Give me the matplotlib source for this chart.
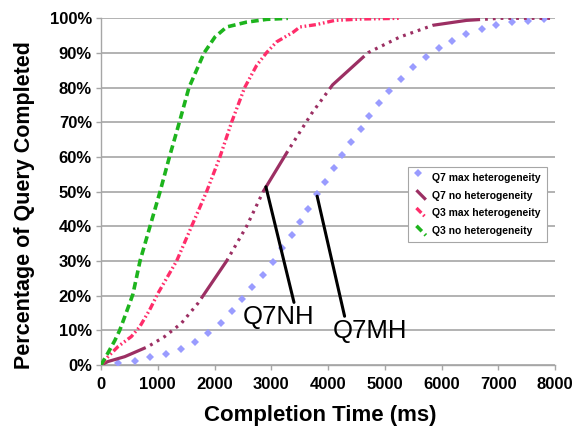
import matplotlib
matplotlib.use('Agg')
import matplotlib.pyplot as plt
from matplotlib.ticker import FuncFormatter
from matplotlib.legend_handler import HandlerLine2D

plt.rcParams['font.family'] = ['Liberation Sans', 'DejaVu Sans']
plt.rcParams['lines.scale_dashes'] = False

# completion time (ms) and % completed
q3_nh_t = [0, 123, 241, 329, 417, 505, 563, 687, 863, 1040, 1205, 1380, 1549, 1815,
           2007, 2213, 2565, 2917, 3292]
q3_nh_p = [0, 3.5, 7, 10, 13.9, 17.8, 20.5, 30, 40, 50, 60, 70, 80, 90,
           94.6, 97.5, 98.9, 99.7, 100]

q3_mh_t = [0, 123, 299, 534, 681, 857, 1004, 1332, 1596, 1860, 2095, 2300, 2530,
           2741, 2917, 3093, 3386, 3504, 3797, 4120, 4600, 5264]
q3_mh_p = [0, 2.4, 5.3, 8.2, 11, 15.9, 20.7, 30, 40, 50, 60, 70, 80,
           86.4, 90.1, 93.2, 96, 97.5, 98.2, 99.4, 99.8, 100]

q7_nh_t = [0, 123, 417, 827, 1121, 1414, 1708, 2213, 2565, 2857, 3298, 3709, 4080,
           4706, 5264, 5850, 6438, 7025, 8000]
q7_nh_p = [0, 1, 2.4, 5.3, 8.2, 12, 17.8, 30, 40, 50, 61.9, 72.5, 80.8,
           90.1, 94.6, 98, 99.4, 100, 100]

q7_mh_t = [300, 600, 863, 1139, 1408, 1655, 1890, 2113, 2300, 2488, 2664, 2846, 3022, 3192,
           3357, 3500, 3642, 3800, 3951, 4108, 4254, 4400, 4575, 4720, 4895, 5082, 5294,
           5500, 5722, 5956, 6192, 6438, 6720, 6963, 7243, 7517, 7797]
q7_mh_p = [0.5, 1.1, 2.2, 3.2, 4.5, 6.5, 9.3, 12.2, 15.6, 19, 22.4, 26, 29.8, 33.7,
           37.5, 41.3, 45, 49.2, 52.8, 56.7, 60.5, 64.4, 68.2, 71.8, 75.6, 79, 82.6,
           86, 88.8, 91.4, 93.6, 95.6, 97, 98.2, 98.8, 99.3, 99.7]

labels = ['Q7 max heterogeneity', 'Q7 no heterogeneity',
          'Q3 max heterogeneity', 'Q3 no heterogeneity']

# callouts: (label, point on curve, text position, where the line leaves the text)
callouts = [('Q7NH', (2905, 51.4), (3134, 13.8), 0.72),
            ('Q7MH', (3808, 48.7), (4736, 9.8), 0.17)]


class SlantedLine(HandlerLine2D):
    # excel style legend key: short line going down to the right
    def create_artists(self, legend, orig_handle, xdescent, ydescent, width,
                       height, fontsize, trans):
        arts = super().create_artists(legend, orig_handle, xdescent, ydescent,
                                      width, height, fontsize, trans)
        line = arts[0]
        xs = list(line.get_xdata())
        if orig_handle.get_linestyle() not in ('None', 'none', ''):
            line.set_data([xs[0] + 2, xs[-1] - 1],
                          [height * 1.15 - ydescent, -0.15 * height - ydescent])
            line.set_markevery(None)
        else:
            x = xs[0] + 3
            y = height * 1.0 - ydescent
            line.set_data([x, x, x], [y, y, y])
        return arts


fig = plt.figure(figsize=(5.75, 4.29), dpi=100)
ax = fig.add_axes([0.1757, 0.1492, 0.7896, 0.8081])

grey = '#a6a6a6'
ax.plot(q7_mh_t, q7_mh_p, linestyle='none', marker='D', markersize=3.8,
        color='#9a9cff', markeredgewidth=0, label=labels[0], zorder=3)
dots = []
for i in range(9):
    dots += [3.6, 2.0]
dots += [3.6]
ax.plot(q7_nh_t, q7_nh_p, color='#9c2f63', lw=2.3,
        linestyle=(0, [34.6] + dots), label=labels[1], zorder=3)
ax.plot(q3_mh_t, q3_mh_p, color='#ff2d6a', lw=2.4,
        linestyle=(0, [5, 2, 1.2, 2, 1.2, 2]), label=labels[2], zorder=3)
ax.plot(q3_nh_t, q3_nh_p, color='#1db41d', lw=2.6,
        linestyle=(0, [5.5, 3]), label=labels[3], zorder=3)

ax.set_xlim(0, 8000)
ax.set_ylim(0, 100)
ax.set_xticks(range(0, 8001, 1000))
ax.set_yticks(range(0, 101, 10))
ax.yaxis.set_major_formatter(FuncFormatter(lambda v, p: '%d%%' % v))
ax.grid(axis='y', color=grey, lw=1.2)
ax.set_axisbelow(True)
for s in ['top', 'right']:
    ax.spines[s].set_visible(False)
for s in ['left', 'bottom']:
    ax.spines[s].set_color(grey)
    ax.spines[s].set_linewidth(1.0)
ax.tick_params(axis='both', colors=grey, length=3.5, width=1.0, labelsize=12,
               labelcolor='black')
ax.tick_params(axis='x', pad=5)
ax.tick_params(axis='y', pad=3)
for t in ax.get_xticklabels() + ax.get_yticklabels():
    t.set_fontweight('bold')

fig.text(25 / 575, 1 - 205 / 429, 'Percentage of Query Completed', rotation=90,
         ha='center', va='center', fontsize=15.5, fontweight='bold')
fig.text(320 / 575, 1 - 415 / 429, 'Completion Time (ms)',
         ha='center', va='center', fontsize=16, fontweight='bold')

for name, pt, txt, rx in callouts:
    ax.annotate(name, xy=pt, xytext=txt, ha='center', va='center', fontsize=18.5,
                arrowprops=dict(arrowstyle='-', color='black', lw=2.2,
                                relpos=(rx, 1.0), shrinkA=0, shrinkB=0))

leg = ax.legend(loc='upper left', bbox_to_anchor=(0.676, 0.571),
                prop={'weight': 'bold', 'size': 7.5}, fancybox=False,
                edgecolor=grey, framealpha=1, handlelength=1.3, handletextpad=0.5,
                labelspacing=0.75, borderpad=0.55, borderaxespad=0, numpoints=1,
                handler_map={matplotlib.lines.Line2D: SlantedLine()})
leg.get_frame().set_linewidth(0.8)

fig.savefig('out.png', dpi=100)
